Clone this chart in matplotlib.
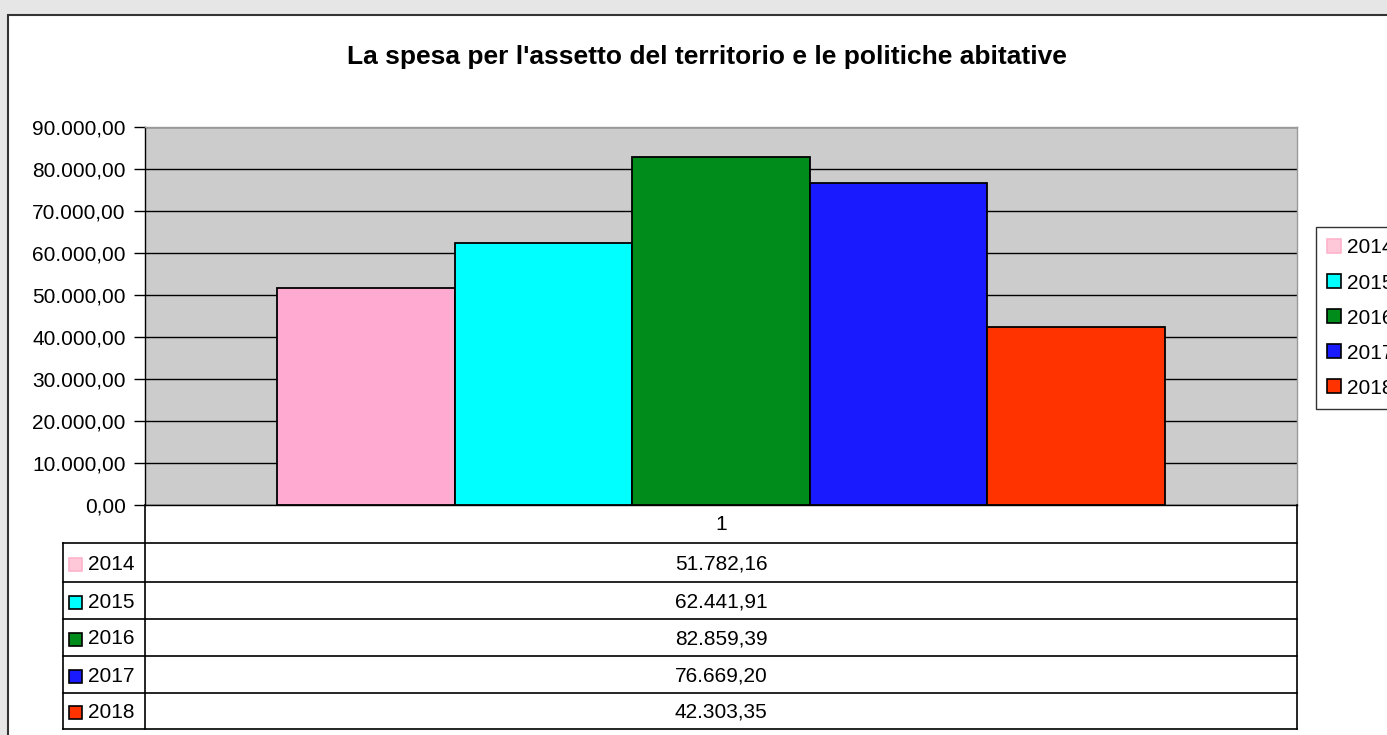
import matplotlib
matplotlib.use("Agg")
import matplotlib.pyplot as plt
import numpy as np
from matplotlib.patches import Rectangle, Patch
from matplotlib.lines import Line2D
from matplotlib.ticker import FuncFormatter, MultipleLocator

plt.rcParams['font.family'] = ['Liberation Sans', 'DejaVu Sans']

# data
years = ['2014', '2015', '2016', '2017', '2018']
spesa = [51782.16, 62441.91, 82859.39, 76669.20, 42303.35]
colori = ['#ffaad0', '#00ffff', '#008c1a', '#1a1aff', '#ff3300']
categoria = '1'
titolo = "La spesa per l'assetto del territorio e le politiche abitative"

W, H = 1387, 735


def fx(px):
    return px / W


def fy(py):
    return 1 - py / H


def it_fmt(v, pos=None):
    s = f"{v:,.2f}"
    return s.replace(',', 'X').replace('.', ',').replace('X', '.')


fig = plt.figure(figsize=(W / 100, H / 100), dpi=100)
fig.patch.set_facecolor('#e6e6e6')

# white chart panel
fig.add_artist(Rectangle((fx(8), -0.1), 2, fy(15) + 0.1, transform=fig.transFigure,
                         facecolor='white', edgecolor='#333333', linewidth=1.5, zorder=0))

fig.text(fx(707), fy(57), titolo, ha='center', va='center', fontsize=19, fontweight='bold')

# plot area
L, R, T, B = 145, 1297, 127, 505
ax = fig.add_axes([fx(L), fy(B), fx(R) - fx(L), fy(T) - fy(B)])
ax.set_facecolor('#cccccc')

n = len(years)
bw = 177.5 / 1152
x0 = np.arange(n) - (n - 1) / 2
for i in range(n):
    ax.bar(x0[i] * bw, spesa[i], width=bw, color=colori[i], edgecolor='black',
           linewidth=1.3, zorder=3)

ax.set_xlim(-0.5, 0.5)
ax.set_ylim(0, 90000)
ax.yaxis.set_major_locator(MultipleLocator(10000))
ax.yaxis.set_major_formatter(FuncFormatter(it_fmt))
ax.grid(axis='y', color='black', linewidth=1.0, zorder=1)
ax.set_axisbelow(True)
ax.set_xticks([])
ax.tick_params(axis='y', direction='out', length=8, width=1, pad=6, labelsize=15)
ax.spines['left'].set_color('black')
ax.spines['bottom'].set_color('black')
ax.spines['top'].set_color('#999999')
ax.spines['right'].set_color('#999999')
for s in ax.spines.values():
    s.set_linewidth(1.0)

# data table under the plot
rows = [505, 543, 582, 619, 656, 693, 729]
TL = 63


def hline(x1, x2, y, c='black'):
    fig.add_artist(Line2D([fx(x1), fx(x2)], [fy(y), fy(y)], transform=fig.transFigure,
                          color=c, linewidth=1.2))


def vline(x, y1, y2, c='black'):
    fig.add_artist(Line2D([fx(x), fx(x)], [fy(y1), fy(y2)], transform=fig.transFigure,
                          color=c, linewidth=1.2))


for y in rows[1:]:
    hline(TL, R, y)
vline(L, rows[0], rows[-1])
vline(R, rows[0], rows[-1])
vline(TL, rows[1], rows[-1])

xc = (L + R) / 2
fig.text(fx(xc), fy((rows[0] + rows[1]) / 2 + 1), categoria, ha='center', va='center', fontsize=15)
for i in range(n):
    yc = (rows[i + 1] + rows[i + 2]) / 2 + 1.5
    ec = '#ffb4cc' if i == 0 else 'black'
    fig.add_artist(Rectangle((fx(69), fy(yc + 6.5)), fx(13), 13 / H, transform=fig.transFigure,
                             facecolor=colori[i] if i else '#ffc8d8', edgecolor=ec, linewidth=1.2))
    fig.text(fx(88), fy(yc), years[i], ha='left', va='center', fontsize=15)
    fig.text(fx(xc), fy(yc), it_fmt(spesa[i]), ha='center', va='center', fontsize=15)

# legend
handles = [Patch(facecolor=colori[i] if i else '#ffc8d8',
                 edgecolor='#ffb4cc' if i == 0 else 'black', linewidth=1.2, label=years[i])
           for i in range(n)]
leg = fig.legend(handles=handles, loc='upper left', bbox_to_anchor=(fx(1316), fy(227)),
                 fontsize=15, frameon=True, fancybox=False, borderpad=0.55,
                 labelspacing=0.77, handlelength=0.63, handleheight=0.63,
                 handletextpad=0.3, borderaxespad=0)
leg.get_frame().set_edgecolor('black')
leg.get_frame().set_linewidth(1.0)

fig.savefig('out.png', dpi=100, facecolor=fig.get_facecolor())
